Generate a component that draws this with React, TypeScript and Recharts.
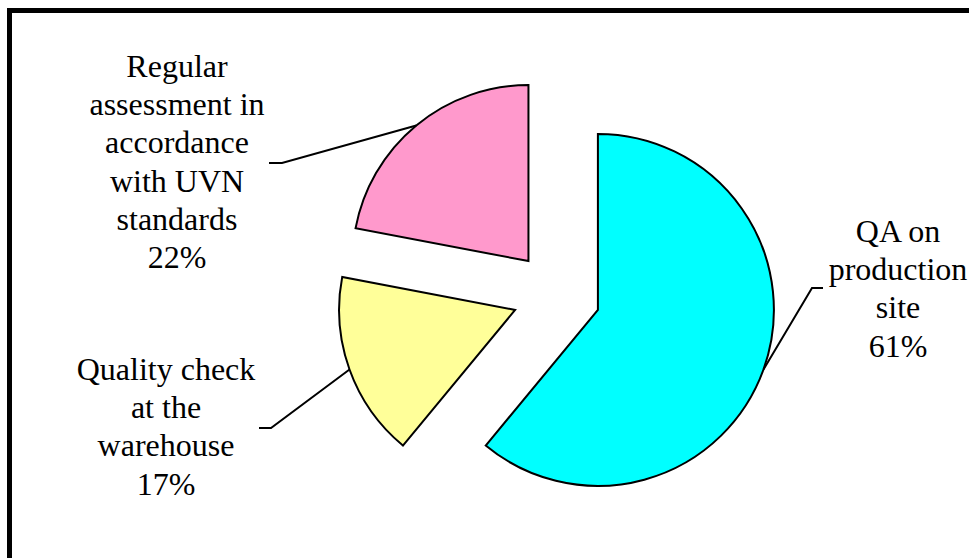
import React from "react";
import { PieChart, Pie, Sector } from "recharts";

// slices, in clockwise order from 12 o'clock
const categories = [
  "QA on\nproduction\nsite",
  "Quality check\nat the\nwarehouse",
  "Regular\nassessment in\naccordance\nwith UVN\nstandards",
];
const shares = [61, 17, 22];
const colors = ["#00FFFF", "#FFFF99", "#FF99CC"];

const data = categories.map((name, i) => ({ name, value: shares[i] }));

const RAD = Math.PI / 180;
const EXPLODE = 44;
const LINE_H = 38.2;

// leader line elbow and text block for each slice
const labelLayout = [
  { elbow: [812, 288], endX: 823, textX: 898, textY: 242 },
  { elbow: [271, 428], endX: 259, textX: 166, textY: 380 },
  { elbow: [282, 163], endX: 269, textX: 177, textY: 77 },
];

const renderSlice = (props: any) => {
  const { cx, cy, innerRadius, outerRadius, startAngle, endAngle, percent, index } = props;
  const mid = (startAngle + endAngle) / 2;
  const ux = Math.cos(-mid * RAD);
  const uy = Math.sin(-mid * RAD);
  const ox = cx + EXPLODE * ux;
  const oy = cy + EXPLODE * uy;
  const sx = ox + outerRadius * ux;
  const sy = oy + outerRadius * uy;
  const lay = labelLayout[index];
  const lines = [...categories[index].split("\n"), `${Math.round(percent * 100)}%`];

  return (
    <g key={`slice-${index}`}>
      <Sector
        cx={ox}
        cy={oy}
        innerRadius={innerRadius}
        outerRadius={outerRadius}
        startAngle={startAngle}
        endAngle={endAngle}
        fill={colors[index]}
        stroke="#000"
        strokeWidth={2}
      />
      <polyline
        points={`${sx},${sy} ${lay.elbow[0]},${lay.elbow[1]} ${lay.endX},${lay.elbow[1]}`}
        fill="none"
        stroke="#000"
        strokeWidth={2}
      />
      <text
        x={lay.textX}
        y={lay.textY}
        textAnchor="middle"
        fontFamily="'Liberation Serif', serif"
        fontSize={32}
        fill="#000"
      >
        {lines.map((l, i) => (
          <tspan key={i} x={lay.textX} dy={i === 0 ? 0 : LINE_H}>
            {l}
          </tspan>
        ))}
      </text>
    </g>
  );
};

export default function App() {
  return (
    <div
      style={{
        position: "fixed",
        left: 0,
        top: 0,
        width: 969,
        height: 558,
        overflow: "hidden",
        background: "#fff",
      }}
    >
      <div
        style={{
          position: "absolute",
          left: 7,
          top: 8,
          width: 1100,
          height: 700,
          border: "5px solid #000",
        }}
      />
      <div style={{ position: "absolute", left: 0, top: 0 }}>
        <PieChart width={969} height={558} margin={{ top: 0, right: 0, bottom: 0, left: 0 }}>
          <Pie
            data={data}
            dataKey="value"
            nameKey="name"
            cx={556.5}
            cy={295}
            innerRadius={0}
            outerRadius={176}
            startAngle={90}
            endAngle={-270}
            fill="none"
            stroke="none"
            labelLine={false}
            label={renderSlice}
            isAnimationActive={false}
          />
        </PieChart>
      </div>
    </div>
  );
}
